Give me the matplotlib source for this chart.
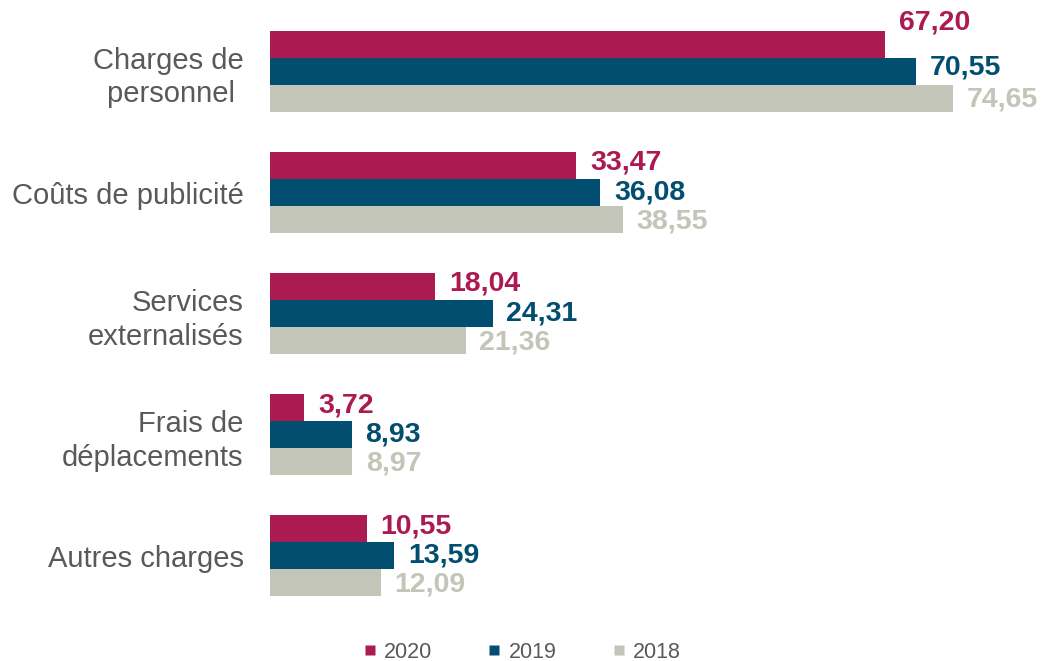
import matplotlib
matplotlib.use("Agg")
import matplotlib.pyplot as plt
from matplotlib.lines import Line2D
import numpy as np

plt.rcParams['font.family'] = ['Liberation Sans', 'DejaVu Sans']

categories = ["Charges de\npersonnel ", "Coûts de publicité", "Services\nexternalisés",
              "Frais de\ndéplacements", "Autres charges"]
series_names = ["2020", "2019", "2018"]
v2020 = [67.20, 33.47, 18.04, 3.72, 10.55]
v2019 = [70.55, 36.08, 24.31, 8.93, 13.59]
v2018 = [74.65, 38.55, 21.36, 8.97, 12.09]
colors = ["#AB1A51", "#024E70", "#C2C5B8"]

W, H = 1048, 661
fig = plt.figure(figsize=(W / 100, H / 100), dpi=100)
ax = fig.add_axes([270 / W, 1 - 616.5 / H, 1 - 270 / W, (616.5 - 11) / H])

y = np.arange(len(categories))
bh = 0.223
values = [v2020, v2019, v2018]
offsets = [-bh, 0, bh]
for k, (vals, off, c) in enumerate(zip(values, offsets, colors)):
    bars = ax.barh(y + off, vals, height=bh, color=c, edgecolor='none')
    for i, (b, v) in enumerate(zip(bars, vals)):
        dy = [2, 0, -1][k]
        if k == 0 and i == 0:
            dy = 16
        if k == 1 and i == 0:
            dy = 3
        ax.annotate(f"{v:.2f}".replace('.', ','),
                    xy=(b.get_width(), b.get_y() + b.get_height() / 2),
                    xytext=(10, dy), textcoords='offset points',
                    ha='left', va='center', fontsize=20.5, fontweight='bold',
                    color=c)

ax.set_xlim(0, 85)
ax.set_ylim(len(categories) - 0.5, -0.5)
ax.set_yticks(y)
ax.set_yticklabels(categories, fontsize=21, color='#595959', linespacing=1.27)
ax.tick_params(axis='y', length=0, pad=19)
for lbl in ax.get_yticklabels():
    lbl.set_y(lbl.get_position()[1])
ax.set_xticks([])
for s in ax.spines.values():
    s.set_visible(False)

handles = [Line2D([], [], marker='s', linestyle='none', markersize=7.5,
                  markerfacecolor=c, markeredgecolor='none') for c in colors]
leg = fig.legend(handles, series_names, loc='center', ncol=3,
                 bbox_to_anchor=(522 / W, 1 - 652 / H), frameon=False,
                 fontsize=15.5, handlelength=0.6, handletextpad=0.35,
                 columnspacing=2.6, borderpad=0)
for t in leg.get_texts():
    t.set_color('#595959')

fig.savefig("out.png", dpi=100)
